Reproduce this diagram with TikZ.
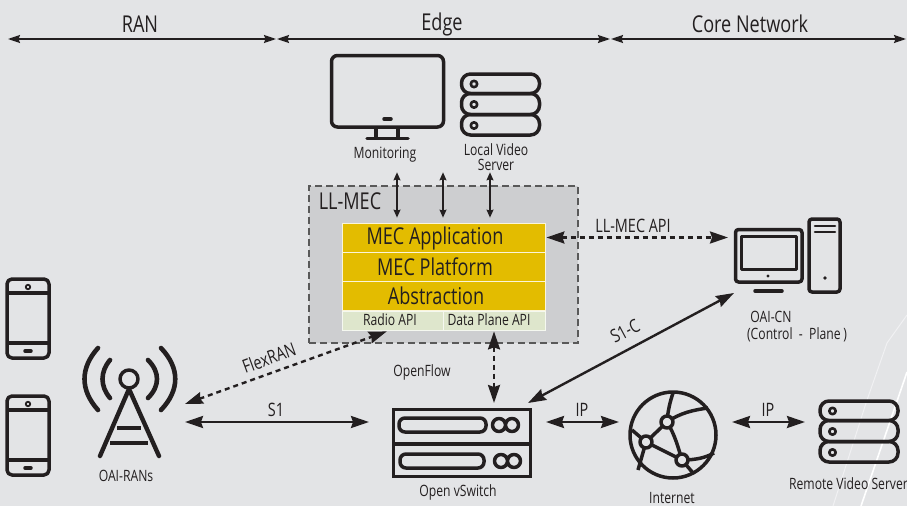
\documentclass[tikz,border=0pt]{standalone}
\usepackage{fontspec}
\setmainfont[FakeStretch=0.78]{Open Sans}
\usetikzlibrary{arrows.meta,calc}
\definecolor{bgcol}{HTML}{E3E4E6}
\definecolor{boxcol}{HTML}{CDCED0}
\definecolor{mecyellow}{HTML}{E3BC00}
\definecolor{apigreen}{HTML}{DEE6CC}
\definecolor{inkcol}{HTML}{231F20}
\tikzset{
  lbl/.style={inner sep=0pt,text=inkcol,font=\fontsize{15.6}{15.6}\selectfont,align=center},
  linklbl/.style={lbl,font=\fontsize{18.5}{20}\selectfont},
  biglbl/.style={inner sep=0pt,text=inkcol,font=\fontsize{23.2}{25}\selectfont},
  meclayer/.style={draw=white!85!mecyellow,line width=0.8pt,fill=mecyellow,minimum width=203pt,minimum height=29pt,inner sep=0pt},
  apibox/.style={draw=white!70!apigreen,line width=0.8pt,fill=apigreen,minimum width=101.5pt,minimum height=19pt,inner sep=0pt},
  icon/.style={inner sep=0pt,outer sep=0pt},
  iconline/.style={draw=inkcol,line width=3.5pt,line cap=round,line join=round},
  span/.style={draw=inkcol,line width=1.5pt,{Stealth[length=12pt,width=8pt,inset=1.5pt]}-{Stealth[length=12pt,width=8pt,inset=1.5pt]}},
  link/.style={draw=inkcol,line width=2.4pt,{Stealth[length=18pt,width=12pt,inset=2pt]}-{Stealth[length=18pt,width=12pt,inset=2pt]}},
  dashlink/.style={link,dash pattern=on 5pt off 4pt},
  tiny/.style={draw=inkcol,line width=1.1pt,{Stealth[length=8pt,width=7pt,inset=1pt]}-{Stealth[length=8pt,width=7pt,inset=1pt]}},
  pics/rack/.style={code={
    \draw[iconline,rounded corners=9pt] (0,0) rectangle (78,19.5);
    \draw[iconline,rounded corners=9pt] (0,19.5) rectangle (78,40.5);
    \draw[iconline,rounded corners=9pt] (0,40.5) rectangle (78,61);
    \draw[iconline,line width=2.6pt] (12.5,10) circle (3.2) (12.5,30.5) circle (3.2) (12.5,51.5) circle (3.2);
  }},
  pics/phone/.style={code={
    \draw[iconline,rounded corners=5pt] (0,0) rectangle (42,79);
    \draw[iconline,line cap=butt] (0,14) -- (42,14) (0,64) -- (42,64);
    \draw[inkcol,line width=1.8pt] (21,8) circle (2.2);
    \draw[iconline] (18,72) -- (24,72);
  }}
}
\begin{document}
\begin{tikzpicture}[x=1pt,y=-1pt]
\useasboundingbox (0,0) rectangle (907,506);
\fill[bgcol] (0,0) rectangle (907,506);
\draw[white!50!bgcol,line width=1pt] (907,315) -- (887,343) -- (867,400) -- (833,506);
\draw[white,line width=1.6pt] (907,372) -- (861,506);

\node[biglbl] (ranlbl) at (140,24) {RAN};
\node[biglbl] (edgelbl) at (442,24.5) {Edge};
\node[biglbl] (corelbl) at (750,24) {Core Network};
\coordinate (h0) at (8,39);
\coordinate (h1) at (276,39);
\coordinate (h2) at (277,39);
\coordinate (h3) at (610,39);
\coordinate (h4) at (611,39);
\coordinate (h5) at (906,39);
\draw[span] (h0) -- (h1);
\draw[span] (h2) -- (h3);
\draw[span] (h4) -- (h5);

\node[icon,minimum width=115pt,minimum height=84pt] (monitor) at (387.5,96) {};
\draw[iconline,rounded corners=6pt] (331.5,55.5) rectangle (443.5,127);
\draw[iconline] (384,119) -- (391,119);
\draw[iconline,line cap=butt] (376,128) -- (376,138) (398,128) -- (398,138);
\draw[iconline] (367,138.5) -- (408,138.5);
\node[lbl] (monlbl) at (385,155) {Monitoring};

\node[icon,minimum width=81pt,minimum height=64pt] (localsrv) at (500.5,104) {};
\pic at (461.5,74) {rack};
\node[lbl] (locallbl) at (496,157) {Local Video\\Server};

\node[draw=black!65,line width=1.3pt,dash pattern=on 7pt off 4pt,fill=boxcol,minimum width=269pt,minimum height=157pt,inner sep=0pt] (llmec) at (443.5,264.5) {};
\node[biglbl] (llmeclbl) at (350,201) {LL-MEC};
\node[meclayer] (mecapp) at (443.5,237.5) {};
\node[meclayer] (mecplat) at (443.5,266.5) {};
\node[meclayer] (mecabs) at (443.5,296) {};
\node[biglbl] (mecapptxt) at (435,238.5) {MEC Application};
\node[biglbl] (mecplattxt) at (435,266.5) {MEC Platform};
\node[biglbl] (mecabstxt) at (436,296) {Abstraction};
\node[apibox] (radioapi) at (392.75,320.5) {};
\node[apibox] (dataapi) at (494.25,320.5) {};
\node[lbl] (radiotxt) at (390,320) {Radio API};
\node[lbl] (datatxt) at (489,320) {Data Plane API};

\draw[tiny] ([shift={(-46.5pt,13pt)}]llmec.north) -- ([shift={(-46.5pt,5pt)}]mecapp.north);
\draw[tiny] ([shift={(-0.5pt,13pt)}]llmec.north) -- ([shift={(-0.5pt,5pt)}]mecapp.north);
\draw[tiny] ([shift={(46.5pt,13pt)}]llmec.north) -- ([shift={(46.5pt,5pt)}]mecapp.north);

\pic at (7,279) {phone};
\pic at (7,396) {phone};
\node[icon,minimum width=110pt,minimum height=112pt] (tower) at (130,404) {};
\draw[iconline] (129,379) circle (9);
\draw[iconline,line width=4.4pt] (129,389) -- (100,456) (129,389) -- (159,456);
\draw[iconline,line width=4.4pt,line cap=butt] (117,428) -- (141,428) (110,443) -- (148,443);
\draw[iconline,line width=4.6pt] (110,360) .. controls (100,372) and (100,386) .. (110,398);
\draw[iconline,line width=4.6pt] (98,348) .. controls (80,368) and (80,390) .. (98,410);
\draw[iconline,line width=4.6pt] (148,360) .. controls (160,372) and (160,386) .. (148,398);
\draw[iconline,line width=4.6pt] (161,348) .. controls (180,368) and (180,390) .. (161,410);
\node[lbl] (towerlbl) at (126,476) {OAI-RANs};

\node[icon,minimum width=140pt,minimum height=70pt] (ovs) at (462,443) {};
\draw[iconline,line join=miter] (393.5,409.5) rectangle (530.5,443.5);
\draw[iconline,line join=miter] (393.5,444.5) rectangle (530.5,476.5);
\draw[iconline,rounded corners=6pt] (399,418) rectangle (486,432);
\draw[iconline,rounded corners=6pt] (400,454) rectangle (484,468);
\draw[iconline] (499,425) circle (6.5) (512,425) circle (6.5);
\draw[iconline] (501,461) circle (6.5) (514,461) circle (6.5);
\node[lbl] (ovslbl) at (458,492) {Open vSwitch};

\node[icon,circle,minimum size=89pt] (globe) at (673,435) {};
\draw[iconline] (673,435) circle (43);
\draw[iconline,line cap=butt] (667,422) .. controls (668,410) and (670,402) .. (673,393);
\draw[iconline,line cap=butt] (667,422) .. controls (680,413) and (693,410) .. (708,408);
\draw[iconline,line cap=butt] (667,422) -- (646,442) -- (632,430);
\draw[iconline,line cap=butt] (667,422) .. controls (675,435) and (678,447) .. (682,460);
\draw[iconline,line cap=butt] (646,442) .. controls (660,449) and (670,454) .. (682,460);
\draw[iconline,line cap=butt] (646,442) -- (638,470);
\draw[iconline,line cap=butt] (682,460) .. controls (695,460) and (705,458) .. (714,453);
\draw[iconline,line cap=butt] (682,460) -- (693,473);
\filldraw[iconline,fill=bgcol] (667,422) circle (6) (646,442) circle (6) (682,460) circle (6);
\node[lbl] (globelbl) at (672,498.5) {Internet};

\node[icon,minimum width=83pt,minimum height=64pt] (remotesrv) at (858.5,431) {};
\pic at (820,401) {rack};
\node[lbl] (remotelbl) at (848.5,484) {Remote Video Server};

\node[icon,minimum width=69pt,minimum height=63pt] (cn) at (768.5,259.5) {};
\draw[iconline,rounded corners=3pt] (735.5,229.5) rectangle (802,282);
\draw[iconline,line width=3pt] (741,236) rectangle (796,269);
\fill[inkcol] (768,276) circle (1.6);
\draw[iconline] (755,291) -- (782,291);
\draw[iconline,rounded corners=3pt] (809,219) rectangle (840,292);
\draw[iconline,line width=2.6pt] (815,226) -- (835,226) (815,232) -- (835,232);
\fill[inkcol] (825,278) circle (1.8);
\node[lbl] (cnlbl) at (771,317) {OAI-CN};
\node[lbl] (cnlbl2) at (797,335) {(Control\ \ -\ \ Plane\,)};

\draw[dashlink] ([xshift=1pt]mecapp.east) -- ([shift={(-6pt,22pt)}]cn.west);
\node[linklbl] (apilbl) at (633,226) {LL-MEC API};
\draw[dashlink] (tower.east) -- ([xshift=-6pt,yshift=-1pt]radioapi.south);
\node[linklbl,rotate=20] (flexlbl) at (269,358) {FlexRAN};
\draw[link] ([yshift=-18pt]tower.east) -- ([shift={(-23pt,21pt)}]ovs.west);
\node[linklbl] (s1lbl) at (276,410) {S1};
\draw[dashlink] ([xshift=-0.25pt,yshift=-1pt]dataapi.south) -- ([xshift=32pt,yshift=5pt]ovs.north);
\node[lbl] (oflbl) at (422,372) {OpenFlow};
\draw[link] ([shift={(-4pt,5pt)}]ovs.north east) -- ([yshift=-2pt]cn.south west);
\node[linklbl,rotate=28] (s1clbl) at (625,331) {S1-C};
\draw[link] ([shift={(14pt,21pt)}]ovs.east) -- ([shift={(-9.5pt,13pt)}]globe.west);
\node[linklbl] (ip1lbl) at (582,410) {IP};
\draw[link] ([shift={(14.5pt,13pt)}]globe.east) -- ([shift={(-12pt,9pt)}]remotesrv.west);
\node[linklbl] (ip2lbl) at (768,410) {IP};
\end{tikzpicture}
\end{document}
